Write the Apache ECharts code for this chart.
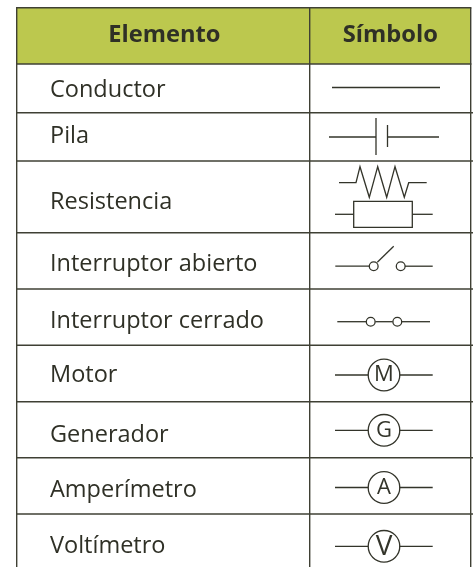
<!DOCTYPE html>
<html><head><meta charset="utf-8">
<style>html,body{margin:0;padding:0;background:#fff}#c{width:473px;height:567px}</style>
<script src="https://cdn.jsdelivr.net/npm/echarts@6/dist/echarts.min.js"></script>
</head><body><div id="c"></div>
<script>
const headers = ['Elemento', 'Símbolo'];
const elementos = ['Conductor','Pila','Resistencia','Interruptor abierto','Interruptor cerrado','Motor','Generador','Amperímetro','Voltímetro'];
const simbolos = ['conductor','pila','resistencia','abierto','cerrado','M','G','A','V'];
// Axis readings (the axes run in picture units)
const rowEdges = [7.7,64,112.7,161,232.7,289,345.3,401.7,457.7,514];
const columnEdges = [16.7,309.7,470.7];
const labelCenters = [90.5,136,202,264.5,321,375.5,435,490.5,546];
const symbolCenters = [87.5,137,198,266.2,321.7,375,430.3,487.5,546.3];

const INK='#3f4034', TXT='#2f3026', HEAD='#bcc84e', FONT='"Open Sans"', SYM='#33342a';

// Glyph outlines, relative to the centre of a symbol cell
const glyphs = {
  conductor:{lines:[[[-52,0],[56,0]]]},
  pila:{lines:[[[-55,0],[-8,0]],[[-8,-19],[-8,18]],[[3.5,-12],[3.5,10]],[[3.5,0],[55,0]]]},
  resistencia:{lines:[[[-45,-15.3],[-28,-15.3],[-24,-31.3],[-14.7,-0.7],[-6.3,-31.3],[2.7,-0.7],[11,-31.3],[20.3,-0.7],[24.7,-15.3],[42.7,-15.3]],
      [[-49,16.3],[-30.3,16.3]],[[28.3,16.3],[48.7,16.3]]],
      rects:[[-30.3,3.3,58.6,26]]},
  abierto:{lines:[[[-48.7,0],[-14.7,0]],[[21,0],[48.7,0]],[[-6.7,-4],[9.7,-20]]],circles:[[-10.3,0,4.4],[16.7,0,4.4]]},
  cerrado:{lines:[[[-46.7,0],[-18,0]],[[-8.7,0],[8.7,0]],[[18,0],[46,0]]],circles:[[-13.3,0,4.4],[13.3,0,4.4]]},
  meter:{lines:[[[-49,0],[-15.7,0]],[[15.3,0],[48.7,0]]],circles:[[0,0,15.8]]}
};

function cellsItem(params, api){
  const i=params.dataIndex;
  const y0=api.coord([0,rowEdges[i]])[1], y1=api.coord([0,i<rowEdges.length-1?rowEdges[i+1]:567])[1];
  const ch=[];
  if(i===0){
    const a=api.coord([columnEdges[0],0])[0], b=api.coord([columnEdges[2],0])[0];
    ch.push({type:'rect',shape:{x:a,y:y0,width:b-a,height:y1-y0},style:{fill:HEAD}});
  }
  return {type:'group',children:ch};
}
function gridItem(params, api){
  const i=params.dataIndex, ch=[];
  const st={stroke:INK,lineWidth:1.4,fill:null};
  const y=api.coord([0,rowEdges[i]])[1];
  const xa=api.coord([columnEdges[0]-0.7,0])[0], xb=api.coord([i<2?columnEdges[2]+0.7:473,0])[0];
  ch.push({type:'line',shape:{x1:xa,y1:y,x2:xb,y2:y},style:st});
  return {type:'group',children:ch};
}
function colItem(params, api){
  const x=api.coord([columnEdges[params.dataIndex],0])[0];
  const a=api.coord([0,rowEdges[0]])[1], b=api.coord([0,567])[1];
  return {type:'line',shape:{x1:x,y1:a,x2:x,y2:b},style:{stroke:INK,lineWidth:1.4}};
}
function textItem(params, api){
  const i=params.dataIndex;
  const p=api.coord([50,labelCenters[i]]);
  return {type:'text',style:{text:elementos[i],x:p[0],y:p[1],fill:TXT,fontFamily:FONT,fontSize:23.5,fontWeight:400,align:'left',verticalAlign:'middle'}};
}
function headerItem(params, api){
  const i=params.dataIndex;
  const mid=[164.3,390.3][i];
  const p=api.coord([mid,35.5]);
  return {type:'text',style:{text:headers[i],x:p[0],y:p[1],fill:TXT,fontFamily:FONT,fontSize:23.7,fontWeight:700,align:'center',verticalAlign:'middle'}};
}
function symbolItem(params, api){
  const i=params.dataIndex, name=simbolos[i];
  const isMeter=name.length===1;
  const g=glyphs[isMeter?'meter':name];
  const c=api.coord([384,symbolCenters[i]]);
  const st={stroke:SYM,lineWidth:1.3,fill:null};
  const ch=[];
  (g.lines||[]).forEach(l=>ch.push({type:'polyline',shape:{points:l.map(q=>[c[0]+q[0],c[1]+q[1]])},style:st}));
  (g.rects||[]).forEach(r=>ch.push({type:'rect',shape:{x:c[0]+r[0],y:c[1]+r[1],width:r[2],height:r[3]},style:st}));
  (g.circles||[]).forEach(r=>ch.push({type:'circle',shape:{cx:c[0]+r[0],cy:c[1]+r[1],r:r[2]},style:st}));
  if(isMeter) ch.push({type:'text',style:{text:name,x:c[0],y:c[1]+(name==='V'?1:0),fill:SYM,fontFamily:FONT,fontSize:name==='V'?28:22,fontWeight:400,align:'center',verticalAlign:'middle'}});
  return {type:'group',children:ch};
}
const chart=echarts.init(document.getElementById('c'),null,{renderer:'canvas'});
const idx=a=>a.map((_,i)=>[i]);
const custom=(name,renderItem,data)=>({type:'custom',name,renderItem,data,clip:false,silent:true,animation:false,encode:{x:[],y:[]}});
chart.setOption({
  animation:false,
  backgroundColor:'#fff',
  grid:{left:0,right:0,top:0,bottom:0},
  xAxis:{type:'value',min:0,max:473,show:false},
  yAxis:{type:'value',min:0,max:567,inverse:true,show:false},
  series:[
    custom('Cabecera',cellsItem,idx(rowEdges).slice(0,1)),
    custom('Filas',gridItem,idx(rowEdges)),
    custom('Columnas',colItem,idx(columnEdges)),
    custom('Encabezados',headerItem,idx(headers)),
    custom('Elementos',textItem,idx(elementos)),
    custom('Símbolos',symbolItem,idx(simbolos))
  ]
});
</script></body></html>
